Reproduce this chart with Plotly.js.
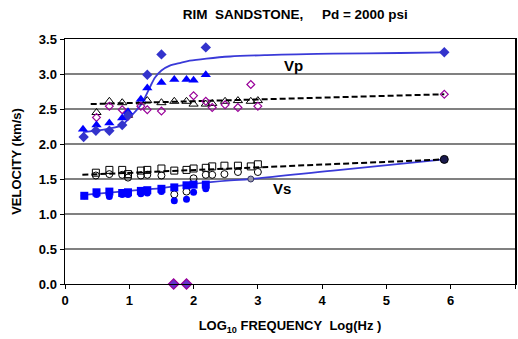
<!DOCTYPE html>
<html><head><meta charset="utf-8">
<script src="https://cdn.plot.ly/plotly-3.0.1.min.js"></script>
<style>html,body{margin:0;padding:0;background:#fff;}#chart{width:518px;height:339px;}</style>
</head><body><div id="chart"></div>
<script>
// Vp data
var vpDiamX = [0.29,0.48,0.69,0.89,0.98,1.28,1.5,2.19,5.9];
var vpDiamY = [2.10,2.19,2.19,2.27,2.41,2.99,3.28,3.38,3.31];
var vpTriX = [0.28,0.49,0.69,0.89,0.98,1.18,1.28,1.5,1.7,1.89,2.0,2.19];
var vpTriY = [2.21,2.27,2.30,2.37,2.46,2.64,2.80,2.88,2.92,2.92,2.91,2.99];
var vpOpenTriX = [0.49,0.69,0.89,0.98,1.18,1.28,1.5,1.7,1.89,2.0,2.19,2.29,2.49,2.69,2.89,3.0];
var vpOpenTriY = [2.45,2.61,2.59,2.41,2.60,2.62,2.59,2.61,2.61,2.57,2.57,2.58,2.61,2.62,2.61,2.62];
var vpOpenDiamX = [0.49,0.69,0.89,0.98,1.18,1.28,1.5,2.0,2.19,2.29,2.49,2.69,2.89,3.0,5.9];
var vpOpenDiamY = [2.38,2.54,2.49,2.40,2.54,2.49,2.47,2.69,2.61,2.52,2.56,2.52,2.85,2.54,2.71];
var zeroDiamX = [1.69,1.89];
var zeroDiamY = [0,0];
var vpCurveX = [0.28,0.5,0.69,0.89,0.98,1.08,1.19,1.32,1.4,1.5,1.63,1.8,1.94,2.2,2.57,3.14,3.6,4.17,5.21,5.9];
var vpCurveY = [2.17,2.19,2.22,2.27,2.35,2.45,2.57,2.81,2.95,3.05,3.12,3.16,3.19,3.22,3.25,3.27,3.28,3.29,3.30,3.31];
var vpFitX = [0.4,5.9];
var vpFitY = [2.57,2.71];
// Vs data
var vsSqX = [0.3,0.49,0.69,0.89,0.98,1.18,1.28,1.5,1.7,1.89,2.0,2.19];
var vsSqY = [1.26,1.31,1.32,1.30,1.31,1.33,1.34,1.36,1.38,1.41,1.42,1.42];
var vsCircX = [0.3,0.49,0.69,0.89,0.98,1.18,1.28,1.5,1.7,1.89,2.0,2.19];
var vsCircY = [1.26,1.28,1.25,1.28,1.28,1.29,1.30,1.32,1.19,1.21,1.31,1.36];
var vsOpenSqX = [0.48,0.69,0.89,0.98,1.18,1.28,1.5,1.7,1.89,2.0,2.19,2.29,2.48,2.69,2.89,3.0];
var vsOpenSqY = [1.59,1.63,1.63,1.57,1.62,1.63,1.65,1.62,1.63,1.65,1.66,1.68,1.69,1.69,1.68,1.71];
var vsOpenCircX = [0.48,0.69,0.89,0.98,1.18,1.28,1.5,1.7,1.89,2.0,2.19,2.29,2.48,2.69,3.0];
var vsOpenCircY = [1.55,1.57,1.56,1.52,1.55,1.56,1.55,1.28,1.32,1.51,1.56,1.56,1.57,1.60,1.60];
var vsMidX = [2.89];
var vsMidY = [1.50];
var vsEndX = [5.9];
var vsEndY = [1.78];
var vsCurveX = [0.25,1.0,1.5,2.0,2.57,2.88,4.17,5.9];
var vsCurveY = [1.27,1.33,1.37,1.43,1.48,1.50,1.62,1.78];
var vsFitX = [0.27,5.9];
var vsFitY = [1.56,1.78];
var xTicks = [0,1,2,3,4,5,6,7];
var yTicks = [0.0,0.5,1.0,1.5,2.0,2.5,3.0,3.5];

var blue = '#0000FF', dblue = '#3333CC', mag = '#990099';
var traces = [
 {x:vpCurveX,y:vpCurveY,mode:'lines',line:{color:'#3A3AD8',width:1.8,shape:'spline',smoothing:0.8}},
 {x:vsCurveX,y:vsCurveY,mode:'lines',line:{color:'#3A3AD8',width:1.8,shape:'spline'}},
 {x:vpFitX,y:vpFitY,mode:'lines',line:{color:'#000',width:2,dash:'6px,3px'}},
 {x:vsFitX,y:vsFitY,mode:'lines',line:{color:'#000',width:2,dash:'6px,3px'}},
 {x:vpOpenTriX,y:vpOpenTriY,mode:'markers',marker:{symbol:'triangle-up-open',size:8,color:'#000',line:{width:1}}},
 {x:vpOpenDiamX,y:vpOpenDiamY,mode:'markers',marker:{symbol:'diamond-open',size:6,color:mag,line:{width:1.2}}},
 {x:vpTriX,y:vpTriY,mode:'markers',marker:{symbol:'triangle-up',size:9,color:blue}},
 {x:vpDiamX,y:vpDiamY,mode:'markers',marker:{symbol:'diamond',size:8,color:dblue}},
 {x:zeroDiamX,y:zeroDiamY,mode:'markers',marker:{symbol:'diamond',size:8,color:'#6633CC',line:{color:mag,width:1.2}},cliponaxis:false},
 {x:vsOpenSqX,y:vsOpenSqY,mode:'markers',marker:{symbol:'square-open',size:7,color:'#000',line:{width:1}}},
 {x:vsOpenCircX,y:vsOpenCircY,mode:'markers',marker:{symbol:'circle-open',size:7,color:'#000',line:{width:1}}},
 {x:vsCircX,y:vsCircY,mode:'markers',marker:{symbol:'circle',size:7,color:blue}},
 {x:vsSqX,y:vsSqY,mode:'markers',marker:{symbol:'square',size:8,color:blue}},
 {x:vsMidX,y:vsMidY,mode:'markers',marker:{symbol:'circle',size:6,color:'#9999AA',line:{color:'#333366',width:1}}},
 {x:vsEndX,y:vsEndY,mode:'markers',marker:{symbol:'circle',size:8,color:'#1A1A4D',line:{color:'#000',width:1}}}
];
var F = 'Arial, "Liberation Sans", sans-serif';
var layout = {
 width:518,height:339,showlegend:false,
 margin:{l:65,r:3,t:39,b:55},
 paper_bgcolor:'#fff',plot_bgcolor:'#fff',
 font:{family:F,color:'#000'},
 title:{text:'RIM\u00A0 SANDSTONE,\u00A0\u00A0\u00A0\u00A0 Pd = 2000 psi',font:{family:F,size:13.5,weight:'bold',color:'#000'},x:0.57,xanchor:'center',y:0.958,yanchor:'middle'},
 xaxis:{range:[0,7],tickvals:xTicks,ticktext:xTicks.map(String),ticks:'outside',ticklen:4,tickcolor:'#000',
  showline:true,linecolor:'#000',linewidth:1,mirror:true,showgrid:false,zeroline:false,
  tickfont:{family:F,size:13,weight:'bold',color:'#000'},
  title:{text:'LOG<sub>10</sub> FREQUENCY\u00A0 Log(Hz )',font:{family:F,size:13,weight:'bold',color:'#000'},standoff:14}},
 yaxis:{range:[0,3.5],tickvals:yTicks,ticktext:yTicks.map(function(v){return v.toFixed(1);}),ticks:'outside',ticklen:4,tickcolor:'#000',
  showline:true,linecolor:'#000',linewidth:1.5,mirror:true,showgrid:true,gridcolor:'#808080',gridwidth:1.2,zeroline:false,
  tickfont:{family:F,size:13,weight:'bold',color:'#000'},
  title:{text:'VELOCITY (km/s)',font:{family:F,size:13,weight:'bold',color:'#000'},standoff:14}},
 annotations:[
  {x:3.55,y:3.12,text:'Vp',showarrow:false,font:{family:F,size:15,weight:'bold',color:'#000'}},
  {x:3.37,y:1.37,text:'Vs',showarrow:false,font:{family:F,size:15,weight:'bold',color:'#000'}}
 ]
};
Plotly.newPlot('chart',traces,layout,{staticPlot:true,displayModeBar:false});
</script></body></html>
